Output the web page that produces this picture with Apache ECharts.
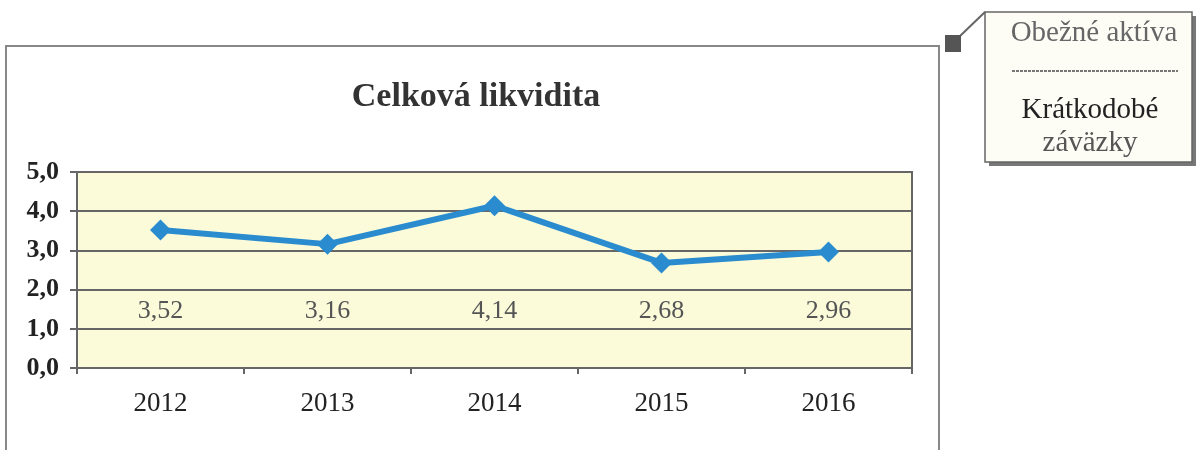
<!DOCTYPE html>
<html>
<head>
<meta charset="utf-8">
<script src="https://cdn.jsdelivr.net/npm/echarts@6/dist/echarts.min.js"></script>
<style>
  html, body { margin: 0; padding: 0; background: #fff; }
  #main { width: 1204px; height: 450px; }
</style>
</head>
<body>
<div id="main"></div>
<script>
const years = ['2012', '2013', '2014', '2015', '2016']
const liquidity = [3.52, 3.16, 4.14, 2.68, 2.96]
const yTicks = [0, 1, 2, 3, 4, 5]

function comma (v, d) {
  return v.toFixed(d).replace('.', ',')
}

let myChart = echarts.init(document.getElementById('main'))

let option = {
  backgroundColor: '#ffffff',
  animation: false,
  title: {
    text: 'Celková likvidita',
    left: 471,
    top: 75,
    textAlign: 'center',
    textStyle: {
      fontFamily: 'Liberation Serif',
      fontSize: 34,
      fontWeight: 'bold',
      color: '#333'
    }
  },
  grid: {
    left: 77,
    right: 1204 - 912,
    top: 172,
    bottom: 450 - 368,
    show: true,
    backgroundColor: '#fbfbda',
    borderColor: '#666',
    borderWidth: 2
  },
  xAxis: {
    type: 'category',
    data: years,
    boundaryGap: true,
    axisLine: { lineStyle: { color: '#666', width: 2 } },
    axisTick: { show: true, length: 6, lineStyle: { color: '#666', width: 2 } },
    axisLabel: {
      margin: 22,
      fontFamily: 'Liberation Serif',
      fontSize: 27,
      color: '#222'
    }
  },
  yAxis: {
    type: 'value',
    min: yTicks[0],
    max: yTicks[yTicks.length - 1],
    interval: 1,
    axisLine: { show: true, lineStyle: { color: '#666', width: 2 } },
    axisTick: { show: true, length: 7, lineStyle: { color: '#666', width: 2 } },
    splitLine: { lineStyle: { color: '#666', width: 2 } },
    axisLabel: {
      margin: 18,
      formatter: v => comma(v, 1),
      fontFamily: 'Liberation Serif',
      fontSize: 26,
      fontWeight: 'bold',
      color: '#222'
    }
  },
  series: [
    {
      type: 'line',
      data: liquidity,
      symbol: 'diamond',
      symbolSize: 21,
      lineStyle: { color: '#2a8cce', width: 6 },
      itemStyle: { color: '#2a8cce' },
      label: {
        show: true,
        formatter: p => comma(p.value, 2),
        fontFamily: 'Liberation Serif',
        fontSize: 26,
        color: '#555'
      },
      // every value label sits on the same row
      labelLayout: function (params) {
        return {
          y: 311,
          align: 'center',
          verticalAlign: 'middle'
        }
      }
    }
  ],
  graphic: [
    // outer frame of chart
    {
      type: 'polyline',
      shape: { points: [[6, 450], [6, 46], [939, 46], [939, 450]] },
      style: { stroke: '#888', lineWidth: 2, fill: null }
    },
    // callout
    {
      type: 'rect',
      shape: { x: 989, y: 16, width: 207, height: 150 },
      style: { fill: '#777', stroke: null }
    },
    {
      type: 'rect',
      shape: { x: 985, y: 12, width: 207, height: 150 },
      style: { fill: '#fdfdf6', stroke: '#666', lineWidth: 1.5 }
    },
    {
      type: 'line',
      shape: { x1: 960, y1: 36, x2: 985, y2: 12 },
      style: { stroke: '#666', lineWidth: 2 }
    },
    {
      type: 'rect',
      shape: { x: 945, y: 35, width: 16, height: 17 },
      style: { fill: '#555' }
    },
    {
      type: 'text',
      x: 1094,
      y: 33,
      style: {
        text: 'Obežné aktíva',
        font: '29px "Liberation Serif"',
        fill: '#666',
        align: 'center',
        verticalAlign: 'middle'
      }
    },
    {
      type: 'line',
      shape: { x1: 1012, y1: 71, x2: 1178, y2: 71 },
      style: { stroke: '#777', lineWidth: 2, lineDash: [3, 1] }
    },
    {
      type: 'text',
      x: 1090,
      y: 110,
      style: {
        text: 'Krátkodobé',
        font: '29px "Liberation Serif"',
        fill: '#222',
        align: 'center',
        verticalAlign: 'middle'
      }
    },
    {
      type: 'text',
      x: 1090,
      y: 143,
      style: {
        text: 'záväzky',
        font: '29px "Liberation Serif"',
        fill: '#555',
        align: 'center',
        verticalAlign: 'middle'
      }
    }
  ]
}

myChart.setOption(option)
</script>
</body>
</html>
